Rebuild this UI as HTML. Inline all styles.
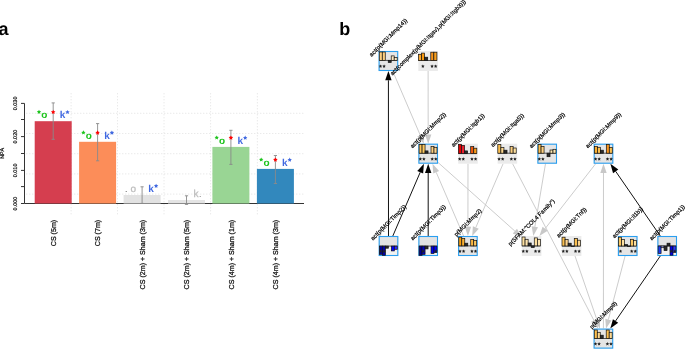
<!DOCTYPE html>
<html><head><meta charset="utf-8"><title>Figure</title>
<style>
html,body{margin:0;padding:0;background:#fff;}
body{width:685px;height:349px;overflow:hidden;}
svg{display:block;font-family:"Liberation Sans", sans-serif;will-change:transform;}
text{-webkit-font-smoothing:antialiased;text-rendering:geometricPrecision;}
</style></head>
<body>
<svg width="685" height="349" viewBox="0 0 685 349">
<rect width="685" height="349" fill="#fff"/>
<g opacity="0.999">
<text x="-1.5" y="34.8" font-size="18" font-weight="bold" fill="#000">a</text>
<text x="339.2" y="34.8" font-size="18" font-weight="bold" fill="#000">b</text>
<line x1="71.1" y1="93" x2="71.1" y2="214.5" stroke="#e4e4e4" stroke-width="0.8" stroke-dasharray="1.4 1.6"/>
<line x1="117.5" y1="93" x2="117.5" y2="214.5" stroke="#e4e4e4" stroke-width="0.8" stroke-dasharray="1.4 1.6"/>
<line x1="164.0" y1="93" x2="164.0" y2="214.5" stroke="#e4e4e4" stroke-width="0.8" stroke-dasharray="1.4 1.6"/>
<line x1="210.6" y1="93" x2="210.6" y2="214.5" stroke="#e4e4e4" stroke-width="0.8" stroke-dasharray="1.4 1.6"/>
<line x1="257.4" y1="93" x2="257.4" y2="214.5" stroke="#e4e4e4" stroke-width="0.8" stroke-dasharray="1.4 1.6"/>
<line x1="26" y1="113.3" x2="304" y2="113.3" stroke="#e4e4e4" stroke-width="0.8" stroke-dasharray="1.4 1.6"/>
<line x1="26" y1="133.5" x2="304" y2="133.5" stroke="#e4e4e4" stroke-width="0.8" stroke-dasharray="1.4 1.6"/>
<line x1="26" y1="153.7" x2="304" y2="153.7" stroke="#e4e4e4" stroke-width="0.8" stroke-dasharray="1.4 1.6"/>
<line x1="26" y1="173.9" x2="304" y2="173.9" stroke="#e4e4e4" stroke-width="0.8" stroke-dasharray="1.4 1.6"/>
<line x1="26" y1="194.1" x2="304" y2="194.1" stroke="#e4e4e4" stroke-width="0.8" stroke-dasharray="1.4 1.6"/>
<line x1="24.5" y1="103.4" x2="24.5" y2="203.5" stroke="#333" stroke-width="1"/>
<line x1="21" y1="203.50" x2="24.5" y2="203.50" stroke="#333" stroke-width="1"/>
<line x1="21" y1="186.60" x2="24.5" y2="186.60" stroke="#333" stroke-width="1"/>
<line x1="21" y1="170.40" x2="24.5" y2="170.40" stroke="#333" stroke-width="1"/>
<line x1="21" y1="153.50" x2="24.5" y2="153.50" stroke="#333" stroke-width="1"/>
<line x1="21" y1="136.60" x2="24.5" y2="136.60" stroke="#333" stroke-width="1"/>
<line x1="21" y1="119.50" x2="24.5" y2="119.50" stroke="#333" stroke-width="1"/>
<line x1="21" y1="103.40" x2="24.5" y2="103.40" stroke="#333" stroke-width="1"/>
<text transform="translate(17.3,203.50) rotate(-90)" text-anchor="middle" font-size="5.5" fill="#111" stroke="#111" stroke-width="0.2">0.000</text>
<text transform="translate(17.3,170.40) rotate(-90)" text-anchor="middle" font-size="5.5" fill="#111" stroke="#111" stroke-width="0.2">0.010</text>
<text transform="translate(17.3,136.60) rotate(-90)" text-anchor="middle" font-size="5.5" fill="#111" stroke="#111" stroke-width="0.2">0.020</text>
<text transform="translate(17.3,103.40) rotate(-90)" text-anchor="middle" font-size="5.5" fill="#111" stroke="#111" stroke-width="0.2">0.030</text>
<text transform="translate(4.1,153.4) rotate(-90)" text-anchor="middle" font-size="5.5" fill="#111" stroke="#111" stroke-width="0.2">NPA</text>
<line x1="24.5" y1="203.5" x2="304" y2="203.5" stroke="#333" stroke-width="1"/>
<rect x="34.7" y="121.2" width="37.0" height="82.30" fill="#d53e4f"/>
<rect x="79.1" y="141.8" width="37.0" height="61.70" fill="#fc8d59"/>
<rect x="123.6" y="195.0" width="37.0" height="8.50" fill="#e2e2e2"/>
<rect x="168.0" y="200.0" width="37.0" height="3.50" fill="#e4e4e4"/>
<rect x="212.4" y="146.9" width="37.0" height="56.60" fill="#99d594"/>
<rect x="256.9" y="168.9" width="37.0" height="34.60" fill="#3288bd"/>
<line x1="53.20" y1="102.9" x2="53.20" y2="139.3" stroke="#8a8a8a" stroke-width="0.9"/>
<line x1="51.60" y1="102.9" x2="54.80" y2="102.9" stroke="#8a8a8a" stroke-width="0.9"/>
<line x1="51.60" y1="139.3" x2="54.80" y2="139.3" stroke="#8a8a8a" stroke-width="0.9"/>
<text x="41.30" y="118.30" font-size="10" font-weight="bold" fill="#1ec41e">o</text>
<polygon points="39.00,109.70 39.68,111.07 41.19,111.29 40.09,112.36 40.35,113.86 39.00,113.15 37.65,113.86 37.91,112.36 36.81,111.29 38.32,111.07" fill="#1ec41e"/>
<polygon points="53.20,109.70 53.91,111.13 55.48,111.36 54.34,112.47 54.61,114.04 53.20,113.30 51.79,114.04 52.06,112.47 50.92,111.36 52.49,111.13" fill="#ff0000"/>
<text x="59.80" y="118.30" font-size="10" font-weight="bold" fill="#4169e1">k</text>
<polygon points="67.50,109.90 68.18,111.27 69.69,111.49 68.59,112.56 68.85,114.06 67.50,113.35 66.15,114.06 66.41,112.56 65.31,111.49 66.82,111.27" fill="#4169e1"/>
<text transform="translate(55.90,219.8) rotate(-90)" text-anchor="end" font-size="7.1" fill="#111" stroke="#111" stroke-width="0.28">CS (5m)</text>
<line x1="97.60" y1="123.6" x2="97.60" y2="160.8" stroke="#8a8a8a" stroke-width="0.9"/>
<line x1="96.00" y1="123.6" x2="99.20" y2="123.6" stroke="#8a8a8a" stroke-width="0.9"/>
<line x1="96.00" y1="160.8" x2="99.20" y2="160.8" stroke="#8a8a8a" stroke-width="0.9"/>
<text x="85.70" y="138.90" font-size="10" font-weight="bold" fill="#1ec41e">o</text>
<polygon points="83.40,130.30 84.08,131.67 85.59,131.89 84.49,132.96 84.75,134.46 83.40,133.75 82.05,134.46 82.31,132.96 81.21,131.89 82.72,131.67" fill="#1ec41e"/>
<polygon points="97.60,130.30 98.31,131.73 99.88,131.96 98.74,133.07 99.01,134.64 97.60,133.90 96.19,134.64 96.46,133.07 95.32,131.96 96.89,131.73" fill="#ff0000"/>
<text x="104.20" y="138.90" font-size="10" font-weight="bold" fill="#4169e1">k</text>
<polygon points="111.90,130.50 112.58,131.87 114.09,132.09 112.99,133.16 113.25,134.66 111.90,133.95 110.55,134.66 110.81,133.16 109.71,132.09 111.22,131.87" fill="#4169e1"/>
<text transform="translate(100.30,219.8) rotate(-90)" text-anchor="end" font-size="7.1" fill="#111" stroke="#111" stroke-width="0.28">CS (7m)</text>
<line x1="142.10" y1="186.8" x2="142.10" y2="203.4" stroke="#8a8a8a" stroke-width="0.9"/>
<line x1="140.50" y1="186.8" x2="143.70" y2="186.8" stroke="#8a8a8a" stroke-width="0.9"/>
<line x1="140.50" y1="203.4" x2="143.70" y2="203.4" stroke="#8a8a8a" stroke-width="0.9"/>
<circle cx="126.20" cy="191.50" r="0.55" fill="#555"/>
<text x="130.50" y="192.10" font-size="10" fill="#bdbdbd" stroke="#bdbdbd" stroke-width="0.3">o</text>
<text x="148.30" y="192.10" font-size="10" font-weight="bold" fill="#4169e1">k</text>
<polygon points="156.10,183.70 156.78,185.07 158.29,185.29 157.19,186.36 157.45,187.86 156.10,187.15 154.75,187.86 155.01,186.36 153.91,185.29 155.42,185.07" fill="#4169e1"/>
<text transform="translate(144.80,219.8) rotate(-90)" text-anchor="end" font-size="7.1" fill="#111" stroke="#111" stroke-width="0.28">CS (2m) + Sham (3m)</text>
<line x1="186.50" y1="195.8" x2="186.50" y2="204.4" stroke="#8a8a8a" stroke-width="0.9"/>
<line x1="184.90" y1="195.8" x2="188.10" y2="195.8" stroke="#8a8a8a" stroke-width="0.9"/>
<line x1="184.90" y1="204.4" x2="188.10" y2="204.4" stroke="#8a8a8a" stroke-width="0.9"/>
<text x="193.40" y="197.10" font-size="10" fill="#bdbdbd" stroke="#bdbdbd" stroke-width="0.3">k</text>
<circle cx="200.20" cy="196.50" r="0.55" fill="#777"/>
<text transform="translate(189.20,219.8) rotate(-90)" text-anchor="end" font-size="7.1" fill="#111" stroke="#111" stroke-width="0.28">CS (2m) + Sham (5m)</text>
<line x1="230.90" y1="130.3" x2="230.90" y2="164.4" stroke="#8a8a8a" stroke-width="0.9"/>
<line x1="229.30" y1="130.3" x2="232.50" y2="130.3" stroke="#8a8a8a" stroke-width="0.9"/>
<line x1="229.30" y1="164.4" x2="232.50" y2="164.4" stroke="#8a8a8a" stroke-width="0.9"/>
<text x="219.00" y="144.00" font-size="10" font-weight="bold" fill="#1ec41e">o</text>
<polygon points="216.70,135.40 217.38,136.77 218.89,136.99 217.79,138.06 218.05,139.56 216.70,138.85 215.35,139.56 215.61,138.06 214.51,136.99 216.02,136.77" fill="#1ec41e"/>
<polygon points="230.90,135.40 231.61,136.83 233.18,137.06 232.04,138.17 232.31,139.74 230.90,139.00 229.49,139.74 229.76,138.17 228.62,137.06 230.19,136.83" fill="#ff0000"/>
<text x="237.50" y="144.00" font-size="10" font-weight="bold" fill="#4169e1">k</text>
<polygon points="245.20,135.60 245.88,136.97 247.39,137.19 246.29,138.26 246.55,139.76 245.20,139.05 243.85,139.76 244.11,138.26 243.01,137.19 244.52,136.97" fill="#4169e1"/>
<text transform="translate(233.60,219.8) rotate(-90)" text-anchor="end" font-size="7.1" fill="#111" stroke="#111" stroke-width="0.28">CS (4m) + Sham (1m)</text>
<line x1="275.40" y1="155.5" x2="275.40" y2="183.5" stroke="#8a8a8a" stroke-width="0.9"/>
<line x1="273.80" y1="155.5" x2="277.00" y2="155.5" stroke="#8a8a8a" stroke-width="0.9"/>
<line x1="273.80" y1="183.5" x2="277.00" y2="183.5" stroke="#8a8a8a" stroke-width="0.9"/>
<text x="263.50" y="166.00" font-size="10" font-weight="bold" fill="#1ec41e">o</text>
<polygon points="261.20,157.40 261.88,158.77 263.39,158.99 262.29,160.06 262.55,161.56 261.20,160.85 259.85,161.56 260.11,160.06 259.01,158.99 260.52,158.77" fill="#1ec41e"/>
<polygon points="275.40,157.40 276.11,158.83 277.68,159.06 276.54,160.17 276.81,161.74 275.40,161.00 273.99,161.74 274.26,160.17 273.12,159.06 274.69,158.83" fill="#ff0000"/>
<text x="282.00" y="166.00" font-size="10" font-weight="bold" fill="#4169e1">k</text>
<polygon points="289.70,157.60 290.38,158.97 291.89,159.19 290.79,160.26 291.05,161.76 289.70,161.05 288.35,161.76 288.61,160.26 287.51,159.19 289.02,158.97" fill="#4169e1"/>
<text transform="translate(278.10,219.8) rotate(-90)" text-anchor="end" font-size="7.1" fill="#111" stroke="#111" stroke-width="0.28">CS (4m) + Sham (3m)</text>
<line x1="388.49" y1="236.00" x2="388.41" y2="80.30" stroke="#111" stroke-width="1.0"/>
<line x1="392.80" y1="236.00" x2="420.22" y2="172.24" stroke="#111" stroke-width="1.0"/>
<line x1="428.20" y1="236.00" x2="428.20" y2="173.00" stroke="#111" stroke-width="1.0"/>
<line x1="463.60" y1="236.00" x2="436.18" y2="172.24" stroke="#c6c6c6" stroke-width="0.9"/>
<line x1="428.11" y1="71.00" x2="428.18" y2="134.40" stroke="#c6c6c6" stroke-width="0.9"/>
<line x1="392.69" y1="71.00" x2="420.24" y2="135.15" stroke="#c6c6c6" stroke-width="0.9"/>
<line x1="467.99" y1="163.70" x2="467.92" y2="226.70" stroke="#c6c6c6" stroke-width="0.9"/>
<line x1="503.12" y1="163.70" x2="475.84" y2="227.45" stroke="#c6c6c6" stroke-width="0.9"/>
<line x1="438.00" y1="162.45" x2="514.86" y2="231.06" stroke="#c6c6c6" stroke-width="0.9"/>
<line x1="545.51" y1="163.70" x2="534.84" y2="226.83" stroke="#c6c6c6" stroke-width="0.9"/>
<line x1="595.71" y1="163.70" x2="545.10" y2="228.66" stroke="#c6c6c6" stroke-width="0.9"/>
<line x1="512.59" y1="163.70" x2="593.92" y2="320.35" stroke="#c6c6c6" stroke-width="0.9"/>
<line x1="575.03" y1="256.00" x2="596.95" y2="319.80" stroke="#c6c6c6" stroke-width="0.9"/>
<line x1="603.41" y1="328.60" x2="603.49" y2="173.00" stroke="#c6c6c6" stroke-width="0.9"/>
<line x1="625.08" y1="256.00" x2="608.38" y2="319.60" stroke="#c6c6c6" stroke-width="0.9"/>
<line x1="660.31" y1="256.00" x2="615.57" y2="320.94" stroke="#111" stroke-width="1.0"/>
<line x1="660.30" y1="236.00" x2="615.68" y2="171.35" stroke="#111" stroke-width="1.0"/>
<polygon points="388.41,71.00 391.61,80.30 385.21,80.30" fill="#000"/>
<polygon points="423.90,163.70 423.16,173.51 417.28,170.98" fill="#000"/>
<polygon points="428.20,163.70 431.40,173.00 425.00,173.00" fill="#000"/>
<polygon points="432.50,163.70 439.12,170.98 433.24,173.51" fill="#c8c8c8"/>
<polygon points="428.19,143.70 424.98,134.40 431.38,134.40" fill="#c8c8c8"/>
<polygon points="423.91,143.70 417.30,136.42 423.18,133.89" fill="#c8c8c8"/>
<polygon points="467.91,236.00 464.72,226.70 471.12,226.70" fill="#c8c8c8"/>
<polygon points="472.18,236.00 472.90,226.19 478.78,228.71" fill="#c8c8c8"/>
<polygon points="521.80,237.25 512.73,233.45 516.99,228.67" fill="#c8c8c8"/>
<polygon points="533.29,236.00 531.68,226.30 538.00,227.36" fill="#c8c8c8"/>
<polygon points="539.39,236.00 542.58,226.70 547.63,230.63" fill="#c8c8c8"/>
<polygon points="598.21,328.60 591.08,321.82 596.76,318.87" fill="#c8c8c8"/>
<polygon points="599.97,328.60 593.92,320.84 599.97,318.76" fill="#c8c8c8"/>
<polygon points="603.49,163.70 606.69,173.00 600.29,173.00" fill="#c8c8c8"/>
<polygon points="606.02,328.60 605.29,318.79 611.48,320.42" fill="#c8c8c8"/>
<polygon points="610.29,328.60 612.93,319.13 618.20,322.76" fill="#000"/>
<polygon points="610.40,163.70 618.32,169.54 613.05,173.17" fill="#000"/>
<g transform="translate(378.6,51.0)"><rect x="0" y="0" width="19.6" height="20.0" fill="#e5e5e5"/><rect x="0.5" y="0.5" width="18.60" height="19.00" fill="none" stroke="#2a9ff0" stroke-width="1.1"/><line x1="0.70" y1="9.4" x2="18.58" y2="9.4" stroke="#111" stroke-width="0.7"/><rect x="0.70" y="1.00" width="2.98" height="8.40" fill="#fdd080" stroke="#111" stroke-width="0.7"/><rect x="3.68" y="1.00" width="2.98" height="8.40" fill="#fdd080" stroke="#111" stroke-width="0.7"/><rect x="9.64" y="9.40" width="2.98" height="2.10" fill="#2a2a2a" stroke="#111" stroke-width="0.7"/><rect x="12.62" y="4.90" width="2.98" height="4.50" fill="#fde8c0" stroke="#111" stroke-width="0.7"/><rect x="15.60" y="6.50" width="2.98" height="2.90" fill="#fde8c0" stroke="#111" stroke-width="0.7"/><polygon points="1.88,13.45 2.41,14.57 3.64,14.73 2.74,15.58 2.97,16.80 1.88,16.20 0.79,16.80 1.02,15.58 0.12,14.73 1.35,14.57" fill="#222"/><polygon points="5.48,13.45 6.01,14.57 7.24,14.73 6.34,15.58 6.57,16.80 5.48,16.20 4.39,16.80 4.62,15.58 3.72,14.73 4.95,14.57" fill="#222"/></g>
<g transform="translate(418.3,51.0)"><rect x="0" y="0" width="19.6" height="20.0" fill="#ebebeb"/><line x1="0.20" y1="9.5" x2="18.62" y2="9.5" stroke="#111" stroke-width="0.7"/><rect x="0.20" y="3.30" width="3.07" height="6.20" fill="#f8a830" stroke="#111" stroke-width="0.7"/><rect x="3.27" y="2.10" width="3.07" height="7.40" fill="#fb9a10" stroke="#111" stroke-width="0.7"/><rect x="6.34" y="6.20" width="3.07" height="3.30" fill="#2a2a2a" stroke="#111" stroke-width="0.7"/><rect x="12.48" y="1.20" width="3.07" height="8.30" fill="#f7941d" stroke="#111" stroke-width="0.7"/><rect x="15.55" y="1.20" width="3.07" height="8.30" fill="#f9a020" stroke="#111" stroke-width="0.7"/><polygon points="4.57,13.45 5.10,14.57 6.33,14.73 5.43,15.58 5.66,16.80 4.57,16.20 3.48,16.80 3.71,15.58 2.81,14.73 4.04,14.57" fill="#222"/><polygon points="13.75,13.45 14.28,14.57 15.51,14.73 14.61,15.58 14.84,16.80 13.75,16.20 12.66,16.80 12.89,15.58 11.99,14.73 13.22,14.57" fill="#222"/><polygon points="17.35,13.45 17.88,14.57 19.11,14.73 18.21,15.58 18.44,16.80 17.35,16.20 16.26,16.80 16.49,15.58 15.59,14.73 16.82,14.57" fill="#222"/></g>
<g transform="translate(418.4,143.7)"><rect x="0" y="0" width="19.6" height="20.0" fill="#e5e5e5"/><rect x="0.5" y="0.5" width="18.60" height="19.00" fill="none" stroke="#2a9ff0" stroke-width="1.1"/><line x1="0.70" y1="9.5" x2="18.58" y2="9.5" stroke="#111" stroke-width="0.7"/><rect x="0.70" y="0.80" width="2.98" height="8.70" fill="#fbc45a" stroke="#111" stroke-width="0.7"/><rect x="3.68" y="0.80" width="2.98" height="8.70" fill="#fcca62" stroke="#111" stroke-width="0.7"/><rect x="6.66" y="7.20" width="2.98" height="2.30" fill="#2a2a2a" stroke="#111" stroke-width="0.7"/><rect x="12.62" y="2.70" width="2.98" height="6.80" fill="#fdd080" stroke="#111" stroke-width="0.7"/><rect x="15.60" y="3.60" width="2.98" height="5.90" fill="#fdd590" stroke="#111" stroke-width="0.7"/><polygon points="1.88,13.45 2.41,14.57 3.64,14.73 2.74,15.58 2.97,16.80 1.88,16.20 0.79,16.80 1.02,15.58 0.12,14.73 1.35,14.57" fill="#222"/><polygon points="5.48,13.45 6.01,14.57 7.24,14.73 6.34,15.58 6.57,16.80 5.48,16.20 4.39,16.80 4.62,15.58 3.72,14.73 4.95,14.57" fill="#222"/><polygon points="13.80,13.45 14.33,14.57 15.56,14.73 14.66,15.58 14.89,16.80 13.80,16.20 12.71,16.80 12.94,15.58 12.04,14.73 13.27,14.57" fill="#222"/><polygon points="17.40,13.45 17.93,14.57 19.16,14.73 18.26,15.58 18.49,16.80 17.40,16.20 16.31,16.80 16.54,15.58 15.64,14.73 16.87,14.57" fill="#222"/></g>
<g transform="translate(458.2,143.7)"><rect x="0" y="0" width="19.6" height="20.0" fill="#ebebeb"/><line x1="0.20" y1="9.9" x2="18.62" y2="9.9" stroke="#111" stroke-width="0.7"/><rect x="0.20" y="0.60" width="3.07" height="9.30" fill="#e00000" stroke="#111" stroke-width="0.7"/><rect x="3.27" y="1.70" width="3.07" height="8.20" fill="#e82030" stroke="#111" stroke-width="0.7"/><rect x="6.34" y="7.20" width="3.07" height="2.70" fill="#2a2a2a" stroke="#111" stroke-width="0.7"/><rect x="12.48" y="2.90" width="3.07" height="7.00" fill="#f05a10" stroke="#111" stroke-width="0.7"/><rect x="15.55" y="4.50" width="3.07" height="5.40" fill="#f89a1a" stroke="#111" stroke-width="0.7"/><polygon points="1.47,13.45 2.00,14.57 3.23,14.73 2.33,15.58 2.56,16.80 1.47,16.20 0.38,16.80 0.61,15.58 -0.29,14.73 0.94,14.57" fill="#222"/><polygon points="5.07,13.45 5.60,14.57 6.83,14.73 5.93,15.58 6.16,16.80 5.07,16.20 3.98,16.80 4.21,15.58 3.31,14.73 4.54,14.57" fill="#222"/><polygon points="13.75,13.45 14.28,14.57 15.51,14.73 14.61,15.58 14.84,16.80 13.75,16.20 12.66,16.80 12.89,15.58 11.99,14.73 13.22,14.57" fill="#222"/><polygon points="17.35,13.45 17.88,14.57 19.11,14.73 18.21,15.58 18.44,16.80 17.35,16.20 16.26,16.80 16.49,15.58 15.59,14.73 16.82,14.57" fill="#222"/></g>
<g transform="translate(497.6,143.7)"><rect x="0" y="0" width="19.6" height="20.0" fill="#ebebeb"/><line x1="0.20" y1="9.5" x2="18.62" y2="9.5" stroke="#111" stroke-width="0.7"/><rect x="0.20" y="0.80" width="3.07" height="8.70" fill="#fcc050" stroke="#111" stroke-width="0.7"/><rect x="3.27" y="3.80" width="3.07" height="5.70" fill="#fdd890" stroke="#111" stroke-width="0.7"/><rect x="6.34" y="6.50" width="3.07" height="3.00" fill="#2a2a2a" stroke="#111" stroke-width="0.7"/><rect x="12.48" y="2.70" width="3.07" height="6.80" fill="#fdd080" stroke="#111" stroke-width="0.7"/><rect x="15.55" y="4.30" width="3.07" height="5.20" fill="#fde0a0" stroke="#111" stroke-width="0.7"/><polygon points="1.47,13.45 2.00,14.57 3.23,14.73 2.33,15.58 2.56,16.80 1.47,16.20 0.38,16.80 0.61,15.58 -0.29,14.73 0.94,14.57" fill="#222"/><polygon points="5.07,13.45 5.60,14.57 6.83,14.73 5.93,15.58 6.16,16.80 5.07,16.20 3.98,16.80 4.21,15.58 3.31,14.73 4.54,14.57" fill="#222"/><polygon points="13.75,13.45 14.28,14.57 15.51,14.73 14.61,15.58 14.84,16.80 13.75,16.20 12.66,16.80 12.89,15.58 11.99,14.73 13.22,14.57" fill="#222"/><polygon points="17.35,13.45 17.88,14.57 19.11,14.73 18.21,15.58 18.44,16.80 17.35,16.20 16.26,16.80 16.49,15.58 15.59,14.73 16.82,14.57" fill="#222"/></g>
<g transform="translate(537.4,143.7)"><rect x="0" y="0" width="19.6" height="20.0" fill="#e5e5e5"/><rect x="0.5" y="0.5" width="18.60" height="19.00" fill="none" stroke="#2a9ff0" stroke-width="1.1"/><line x1="0.70" y1="9.5" x2="18.58" y2="9.5" stroke="#111" stroke-width="0.7"/><rect x="0.70" y="0.80" width="2.98" height="8.70" fill="#fcc050" stroke="#111" stroke-width="0.7"/><rect x="3.68" y="2.70" width="2.98" height="6.80" fill="#fdd080" stroke="#111" stroke-width="0.7"/><rect x="9.64" y="9.50" width="2.98" height="3.50" fill="#2a2a2a" stroke="#111" stroke-width="0.7"/><rect x="12.62" y="6.30" width="2.98" height="3.20" fill="#fde8b0" stroke="#111" stroke-width="0.7"/><rect x="15.60" y="5.60" width="2.98" height="3.90" fill="#fde8b0" stroke="#111" stroke-width="0.7"/><polygon points="1.88,13.45 2.41,14.57 3.64,14.73 2.74,15.58 2.97,16.80 1.88,16.20 0.79,16.80 1.02,15.58 0.12,14.73 1.35,14.57" fill="#222"/><polygon points="5.48,13.45 6.01,14.57 7.24,14.73 6.34,15.58 6.57,16.80 5.48,16.20 4.39,16.80 4.62,15.58 3.72,14.73 4.95,14.57" fill="#222"/></g>
<g transform="translate(593.7,143.7)"><rect x="0" y="0" width="19.6" height="20.0" fill="#e5e5e5"/><rect x="0.5" y="0.5" width="18.60" height="19.00" fill="none" stroke="#2a9ff0" stroke-width="1.1"/><line x1="0.70" y1="9.5" x2="18.58" y2="9.5" stroke="#111" stroke-width="0.7"/><rect x="0.70" y="2.70" width="2.98" height="6.80" fill="#fbb030" stroke="#111" stroke-width="0.7"/><rect x="3.68" y="3.60" width="2.98" height="5.90" fill="#fcc050" stroke="#111" stroke-width="0.7"/><rect x="6.66" y="6.50" width="2.98" height="3.00" fill="#2a2a2a" stroke="#111" stroke-width="0.7"/><rect x="12.62" y="0.80" width="2.98" height="8.70" fill="#f7941d" stroke="#111" stroke-width="0.7"/><rect x="15.60" y="3.80" width="2.98" height="5.70" fill="#fcc050" stroke="#111" stroke-width="0.7"/><polygon points="1.88,13.45 2.41,14.57 3.64,14.73 2.74,15.58 2.97,16.80 1.88,16.20 0.79,16.80 1.02,15.58 0.12,14.73 1.35,14.57" fill="#222"/><polygon points="5.48,13.45 6.01,14.57 7.24,14.73 6.34,15.58 6.57,16.80 5.48,16.20 4.39,16.80 4.62,15.58 3.72,14.73 4.95,14.57" fill="#222"/><polygon points="13.80,13.45 14.33,14.57 15.56,14.73 14.66,15.58 14.89,16.80 13.80,16.20 12.71,16.80 12.94,15.58 12.04,14.73 13.27,14.57" fill="#222"/><polygon points="17.40,13.45 17.93,14.57 19.16,14.73 18.26,15.58 18.49,16.80 17.40,16.20 16.31,16.80 16.54,15.58 15.64,14.73 16.87,14.57" fill="#222"/></g>
<g transform="translate(378.7,236.0)"><rect x="0" y="0" width="19.6" height="20.0" fill="#e3e3e3"/><rect x="0" y="10.1" width="19.6" height="9.90" fill="#f2f2f2"/><rect x="0.5" y="0.5" width="18.60" height="19.00" fill="none" stroke="#2a9ff0" stroke-width="1.1"/><line x1="0.70" y1="10.1" x2="18.58" y2="10.1" stroke="#111" stroke-width="0.7"/><rect x="0.70" y="10.10" width="2.98" height="8.30" fill="#000098" stroke="#111" stroke-width="0.7"/><rect x="3.68" y="10.10" width="2.98" height="9.20" fill="#0000a8" stroke="#111" stroke-width="0.7"/><rect x="6.66" y="10.10" width="2.98" height="2.10" fill="#2a2a2a" stroke="#111" stroke-width="0.7"/><rect x="12.62" y="10.10" width="2.98" height="4.80" fill="#0000ff" stroke="#111" stroke-width="0.7"/><rect x="15.60" y="10.10" width="2.98" height="3.20" fill="#2a2aff" stroke="#111" stroke-width="0.7"/><polygon points="1.88,13.45 2.41,14.57 3.64,14.73 2.74,15.58 2.97,16.80 1.88,16.20 0.79,16.80 1.02,15.58 0.12,14.73 1.35,14.57" fill="#222"/><polygon points="5.48,13.45 6.01,14.57 7.24,14.73 6.34,15.58 6.57,16.80 5.48,16.20 4.39,16.80 4.62,15.58 3.72,14.73 4.95,14.57" fill="#222"/></g>
<g transform="translate(418.4,236.0)"><rect x="0" y="0" width="19.6" height="20.0" fill="#e3e3e3"/><rect x="0" y="10.1" width="19.6" height="9.90" fill="#f2f2f2"/><rect x="0.5" y="0.5" width="18.60" height="19.00" fill="none" stroke="#2a9ff0" stroke-width="1.1"/><line x1="0.70" y1="10.1" x2="18.58" y2="10.1" stroke="#111" stroke-width="0.7"/><rect x="0.70" y="10.10" width="2.98" height="9.20" fill="#000090" stroke="#111" stroke-width="0.7"/><rect x="3.68" y="10.10" width="2.98" height="8.30" fill="#0000c0" stroke="#111" stroke-width="0.7"/><rect x="6.66" y="10.10" width="2.98" height="2.80" fill="#2a2a2a" stroke="#111" stroke-width="0.7"/><rect x="12.62" y="10.10" width="2.98" height="7.40" fill="#0000ee" stroke="#111" stroke-width="0.7"/><rect x="15.60" y="10.10" width="2.98" height="6.40" fill="#0000ff" stroke="#111" stroke-width="0.7"/><polygon points="4.78,13.45 5.31,14.57 6.54,14.73 5.64,15.58 5.87,16.80 4.78,16.20 3.69,16.80 3.92,15.58 3.02,14.73 4.25,14.57" fill="#222"/><polygon points="17.40,13.45 17.93,14.57 19.16,14.73 18.26,15.58 18.49,16.80 17.40,16.20 16.31,16.80 16.54,15.58 15.64,14.73 16.87,14.57" fill="#222"/></g>
<g transform="translate(458.1,236.0)"><rect x="0" y="0" width="19.6" height="20.0" fill="#e5e5e5"/><rect x="0.5" y="0.5" width="18.60" height="19.00" fill="none" stroke="#2a9ff0" stroke-width="1.1"/><line x1="0.70" y1="9.9" x2="18.58" y2="9.9" stroke="#111" stroke-width="0.7"/><rect x="0.70" y="1.20" width="2.98" height="8.70" fill="#f9a010" stroke="#111" stroke-width="0.7"/><rect x="3.68" y="2.40" width="2.98" height="7.50" fill="#fbb030" stroke="#111" stroke-width="0.7"/><rect x="6.66" y="7.20" width="2.98" height="2.70" fill="#2a2a2a" stroke="#111" stroke-width="0.7"/><rect x="12.62" y="3.50" width="2.98" height="6.40" fill="#fbb840" stroke="#111" stroke-width="0.7"/><rect x="15.60" y="4.40" width="2.98" height="5.50" fill="#fcc860" stroke="#111" stroke-width="0.7"/><polygon points="1.88,13.45 2.41,14.57 3.64,14.73 2.74,15.58 2.97,16.80 1.88,16.20 0.79,16.80 1.02,15.58 0.12,14.73 1.35,14.57" fill="#222"/><polygon points="5.48,13.45 6.01,14.57 7.24,14.73 6.34,15.58 6.57,16.80 5.48,16.20 4.39,16.80 4.62,15.58 3.72,14.73 4.95,14.57" fill="#222"/><polygon points="13.80,13.45 14.33,14.57 15.56,14.73 14.66,15.58 14.89,16.80 13.80,16.20 12.71,16.80 12.94,15.58 12.04,14.73 13.27,14.57" fill="#222"/><polygon points="17.40,13.45 17.93,14.57 19.16,14.73 18.26,15.58 18.49,16.80 17.40,16.20 16.31,16.80 16.54,15.58 15.64,14.73 16.87,14.57" fill="#222"/></g>
<g transform="translate(521.8,236.0)"><rect x="0" y="0" width="19.6" height="20.0" fill="#ebebeb"/><line x1="0.20" y1="9.9" x2="18.62" y2="9.9" stroke="#111" stroke-width="0.7"/><rect x="0.20" y="1.00" width="3.07" height="8.90" fill="#fde0a0" stroke="#111" stroke-width="0.7"/><rect x="3.27" y="3.30" width="3.07" height="6.60" fill="#fde4b0" stroke="#111" stroke-width="0.7"/><rect x="6.34" y="7.00" width="3.07" height="2.90" fill="#2a2a2a" stroke="#111" stroke-width="0.7"/><rect x="9.41" y="9.90" width="3.07" height="1.60" fill="#2a2a2a" stroke="#111" stroke-width="0.7"/><rect x="12.48" y="1.90" width="3.07" height="8.00" fill="#fde0a0" stroke="#111" stroke-width="0.7"/><rect x="15.55" y="3.30" width="3.07" height="6.60" fill="#fde4b0" stroke="#111" stroke-width="0.7"/><polygon points="1.47,13.45 2.00,14.57 3.23,14.73 2.33,15.58 2.56,16.80 1.47,16.20 0.38,16.80 0.61,15.58 -0.29,14.73 0.94,14.57" fill="#222"/><polygon points="5.07,13.45 5.60,14.57 6.83,14.73 5.93,15.58 6.16,16.80 5.07,16.20 3.98,16.80 4.21,15.58 3.31,14.73 4.54,14.57" fill="#222"/><polygon points="13.75,13.45 14.28,14.57 15.51,14.73 14.61,15.58 14.84,16.80 13.75,16.20 12.66,16.80 12.89,15.58 11.99,14.73 13.22,14.57" fill="#222"/><polygon points="17.35,13.45 17.88,14.57 19.11,14.73 18.21,15.58 18.44,16.80 17.35,16.20 16.26,16.80 16.49,15.58 15.59,14.73 16.82,14.57" fill="#222"/></g>
<g transform="translate(561.8,236.0)"><rect x="0" y="0" width="19.6" height="20.0" fill="#ebebeb"/><line x1="0.20" y1="10.0" x2="18.62" y2="10.0" stroke="#111" stroke-width="0.7"/><rect x="0.20" y="1.20" width="3.07" height="8.80" fill="#fbc050" stroke="#111" stroke-width="0.7"/><rect x="3.27" y="3.50" width="3.07" height="6.50" fill="#fdd590" stroke="#111" stroke-width="0.7"/><rect x="6.34" y="7.20" width="3.07" height="2.80" fill="#2a2a2a" stroke="#111" stroke-width="0.7"/><rect x="9.41" y="10.00" width="3.07" height="0.60" fill="#2a2a2a" stroke="#111" stroke-width="0.7"/><rect x="12.48" y="2.40" width="3.07" height="7.60" fill="#fbc050" stroke="#111" stroke-width="0.7"/><rect x="15.55" y="4.20" width="3.07" height="5.80" fill="#fdd590" stroke="#111" stroke-width="0.7"/><polygon points="1.47,13.45 2.00,14.57 3.23,14.73 2.33,15.58 2.56,16.80 1.47,16.20 0.38,16.80 0.61,15.58 -0.29,14.73 0.94,14.57" fill="#222"/><polygon points="5.07,13.45 5.60,14.57 6.83,14.73 5.93,15.58 6.16,16.80 5.07,16.20 3.98,16.80 4.21,15.58 3.31,14.73 4.54,14.57" fill="#222"/><polygon points="13.75,13.45 14.28,14.57 15.51,14.73 14.61,15.58 14.84,16.80 13.75,16.20 12.66,16.80 12.89,15.58 11.99,14.73 13.22,14.57" fill="#222"/><polygon points="17.35,13.45 17.88,14.57 19.11,14.73 18.21,15.58 18.44,16.80 17.35,16.20 16.26,16.80 16.49,15.58 15.59,14.73 16.82,14.57" fill="#222"/></g>
<g transform="translate(617.9,236.0)"><rect x="0" y="0" width="19.6" height="20.0" fill="#e5e5e5"/><rect x="0.5" y="0.5" width="18.60" height="19.00" fill="none" stroke="#2a9ff0" stroke-width="1.1"/><line x1="0.70" y1="10.0" x2="18.58" y2="10.0" stroke="#111" stroke-width="0.7"/><rect x="0.70" y="1.20" width="2.98" height="8.80" fill="#fcc860" stroke="#111" stroke-width="0.7"/><rect x="3.68" y="3.50" width="2.98" height="6.50" fill="#fde0a0" stroke="#111" stroke-width="0.7"/><rect x="6.66" y="8.60" width="2.98" height="1.40" fill="#2a2a2a" stroke="#111" stroke-width="0.7"/><rect x="9.64" y="10.00" width="2.98" height="0.60" fill="#2a2a2a" stroke="#111" stroke-width="0.7"/><rect x="12.62" y="3.30" width="2.98" height="6.70" fill="#fcc860" stroke="#111" stroke-width="0.7"/><rect x="15.60" y="4.40" width="2.98" height="5.60" fill="#fde0a0" stroke="#111" stroke-width="0.7"/><polygon points="2.58,13.45 3.11,14.57 4.34,14.73 3.44,15.58 3.67,16.80 2.58,16.20 1.49,16.80 1.72,15.58 0.82,14.73 2.05,14.57" fill="#222"/><polygon points="13.80,13.45 14.33,14.57 15.56,14.73 14.66,15.58 14.89,16.80 13.80,16.20 12.71,16.80 12.94,15.58 12.04,14.73 13.27,14.57" fill="#222"/><polygon points="17.40,13.45 17.93,14.57 19.16,14.73 18.26,15.58 18.49,16.80 17.40,16.20 16.31,16.80 16.54,15.58 15.64,14.73 16.87,14.57" fill="#222"/></g>
<g transform="translate(657.4,236.0)"><rect x="0" y="0" width="19.6" height="20.0" fill="#e3e3e3"/><rect x="0" y="10.0" width="19.6" height="10.00" fill="#f2f2f2"/><rect x="0.5" y="0.5" width="18.60" height="19.00" fill="none" stroke="#2a9ff0" stroke-width="1.1"/><line x1="0.70" y1="10.0" x2="18.58" y2="10.0" stroke="#111" stroke-width="0.7"/><rect x="0.70" y="10.00" width="2.98" height="7.50" fill="#1a3cf0" stroke="#111" stroke-width="0.7"/><rect x="3.68" y="10.00" width="2.98" height="1.70" fill="#b0b0ff" stroke="#111" stroke-width="0.7"/><rect x="6.66" y="10.00" width="2.98" height="4.60" fill="#2a2a2a" stroke="#111" stroke-width="0.7"/><rect x="9.64" y="7.20" width="2.98" height="2.80" fill="#2a2a2a" stroke="#111" stroke-width="0.7"/><rect x="12.62" y="10.00" width="2.98" height="9.20" fill="#0000ee" stroke="#111" stroke-width="0.7"/><rect x="15.60" y="10.00" width="2.98" height="6.30" fill="#2a3aff" stroke="#111" stroke-width="0.7"/><polygon points="13.80,13.45 14.33,14.57 15.56,14.73 14.66,15.58 14.89,16.80 13.80,16.20 12.71,16.80 12.94,15.58 12.04,14.73 13.27,14.57" fill="#222"/><polygon points="17.40,13.45 17.93,14.57 19.16,14.73 18.26,15.58 18.49,16.80 17.40,16.20 16.31,16.80 16.54,15.58 15.64,14.73 16.87,14.57" fill="#222"/></g>
<g transform="translate(593.6,328.6)"><rect x="0" y="0" width="19.6" height="20.0" fill="#e5e5e5"/><rect x="0.5" y="0.5" width="18.60" height="19.00" fill="none" stroke="#2a9ff0" stroke-width="1.1"/><line x1="0.70" y1="9.9" x2="18.58" y2="9.9" stroke="#111" stroke-width="0.7"/><rect x="0.70" y="1.40" width="2.98" height="8.50" fill="#fcc050" stroke="#111" stroke-width="0.7"/><rect x="3.68" y="3.70" width="2.98" height="6.20" fill="#fdd890" stroke="#111" stroke-width="0.7"/><rect x="6.66" y="6.60" width="2.98" height="3.30" fill="#2a2a2a" stroke="#111" stroke-width="0.7"/><rect x="12.62" y="1.40" width="2.98" height="8.50" fill="#fcc050" stroke="#111" stroke-width="0.7"/><rect x="15.60" y="3.70" width="2.98" height="6.20" fill="#fdd890" stroke="#111" stroke-width="0.7"/><polygon points="1.88,13.45 2.41,14.57 3.64,14.73 2.74,15.58 2.97,16.80 1.88,16.20 0.79,16.80 1.02,15.58 0.12,14.73 1.35,14.57" fill="#222"/><polygon points="5.48,13.45 6.01,14.57 7.24,14.73 6.34,15.58 6.57,16.80 5.48,16.20 4.39,16.80 4.62,15.58 3.72,14.73 4.95,14.57" fill="#222"/><polygon points="13.80,13.45 14.33,14.57 15.56,14.73 14.66,15.58 14.89,16.80 13.80,16.20 12.71,16.80 12.94,15.58 12.04,14.73 13.27,14.57" fill="#222"/><polygon points="17.40,13.45 17.93,14.57 19.16,14.73 18.26,15.58 18.49,16.80 17.40,16.20 16.31,16.80 16.54,15.58 15.64,14.73 16.87,14.57" fill="#222"/></g>
<text transform="translate(388.50,37.80) rotate(-45) scale(1.0,1)" text-anchor="middle" dy="1.6" font-size="5.85" fill="#000" stroke="#000" stroke-width="0.2">act(p(MGI:Mmp14))</text>
<text transform="translate(428.20,37.80) rotate(-45) scale(1.0,1)" text-anchor="middle" dy="1.6" font-size="5.85" fill="#000" stroke="#000" stroke-width="0.2">act(complex(p(MGI:Itgav),p(MGI:Itgb3)))</text>
<text transform="translate(428.30,130.50) rotate(-45) scale(1.0,1)" text-anchor="middle" dy="1.6" font-size="5.85" fill="#000" stroke="#000" stroke-width="0.2">act(p(MGI:Mmp2))</text>
<text transform="translate(468.10,130.50) rotate(-45) scale(1.0,1)" text-anchor="middle" dy="1.6" font-size="5.85" fill="#000" stroke="#000" stroke-width="0.2">act(p(MGI:Itgb1))</text>
<text transform="translate(507.50,130.50) rotate(-45) scale(1.0,1)" text-anchor="middle" dy="1.6" font-size="5.85" fill="#000" stroke="#000" stroke-width="0.2">act(p(MGI:Itga5))</text>
<text transform="translate(547.30,130.50) rotate(-45) scale(1.0,1)" text-anchor="middle" dy="1.6" font-size="5.85" fill="#000" stroke="#000" stroke-width="0.2">act(p(MGI:Mmp3))</text>
<text transform="translate(603.60,130.50) rotate(-45) scale(1.0,1)" text-anchor="middle" dy="1.6" font-size="5.85" fill="#000" stroke="#000" stroke-width="0.2">act(p(MGI:Mmp9))</text>
<text transform="translate(388.60,222.80) rotate(-45) scale(1.0,1)" text-anchor="middle" dy="1.6" font-size="5.85" fill="#000" stroke="#000" stroke-width="0.2">act(p(MGI:Timp2))</text>
<text transform="translate(428.30,222.80) rotate(-45) scale(1.0,1)" text-anchor="middle" dy="1.6" font-size="5.85" fill="#000" stroke="#000" stroke-width="0.2">act(p(MGI:Timp3))</text>
<text transform="translate(468.00,222.80) rotate(-45) scale(1.0,1)" text-anchor="middle" dy="1.6" font-size="5.85" fill="#000" stroke="#000" stroke-width="0.2">p(MGI:Mmp2)</text>
<text transform="translate(531.70,222.80) rotate(-45) scale(1.0,1)" text-anchor="middle" dy="1.6" font-size="5.85" fill="#000" stroke="#000" stroke-width="0.2">p(SFAM:&quot;COL4 Family&quot;)</text>
<text transform="translate(571.70,222.80) rotate(-45) scale(1.0,1)" text-anchor="middle" dy="1.6" font-size="5.85" fill="#000" stroke="#000" stroke-width="0.2">act(p(MGI:Tnf))</text>
<text transform="translate(627.80,222.80) rotate(-45) scale(1.0,1)" text-anchor="middle" dy="1.6" font-size="5.85" fill="#000" stroke="#000" stroke-width="0.2">act(p(MGI:Il1b))</text>
<text transform="translate(667.30,222.80) rotate(-45) scale(1.0,1)" text-anchor="middle" dy="1.6" font-size="5.85" fill="#000" stroke="#000" stroke-width="0.2">act(p(MGI:Timp1))</text>
<text transform="translate(603.50,315.40) rotate(-45) scale(1.0,1)" text-anchor="middle" dy="1.6" font-size="5.85" fill="#000" stroke="#000" stroke-width="0.2">p(MGI:Mmp9)</text>
</g>
</svg>
</body></html>
